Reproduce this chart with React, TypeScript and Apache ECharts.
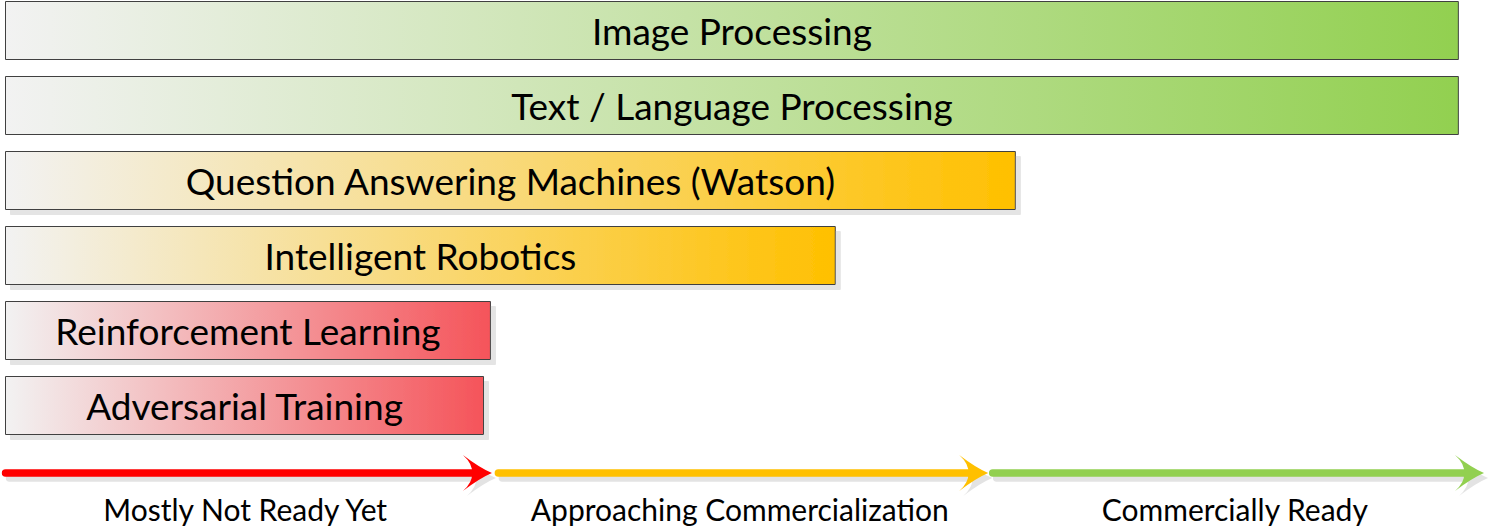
import React, { useEffect, useRef } from 'react';
import * as echarts from 'echarts';

const categories = [
  'Image Processing',
  'Text / Language Processing',
  'Question Answering Machines (Watson)',
  'Intelligent Robotics',
  'Reinforcement Learning',
  'Adversarial Training',
];
const readiness = [2.947, 2.947, 2.049, 1.684, 0.985, 0.971];
const barColors = ['#92d050', '#92d050', '#ffc000', '#ffc000', '#f5545a', '#f5545a'];
const barShadow = [false, false, true, true, true, true];

const stageNames = ['Mostly Not Ready Yet', 'Approaching Commercialization', 'Commercially Ready'];
const stageStarts = [-0.006, 0.993, 1.995];
const stageEnds = [0.987, 1.993, 2.998];
const stageColors = ['#ff0000', '#ffc000', '#92d050'];

const FONT = 'Lato, "Open Sans", sans-serif';

function headPath(tx: number, y: number) {
  return `M${tx},${y} Q${tx - 12},${y - 5} ${tx - 29},${y - 18} Q${tx - 19},${y - 9} ${tx - 20},${y} Q${tx - 19},${y + 9} ${tx - 29},${y + 18} Q${tx - 12},${y + 5} ${tx},${y} Z`;
}

export default function App() {
  const ref = useRef<HTMLDivElement>(null);
  useEffect(() => {
    if (!ref.current) return;
    const chart = echarts.init(ref.current, null, { renderer: 'svg' });
    const barData = readiness.map((v, i) => ({
      value: v,
      name: categories[i],
      itemStyle: {
        color: new echarts.graphic.LinearGradient(0, 0, 1, 0, [
          { offset: 0, color: '#f2f2f2' },
          { offset: 1, color: barColors[i] },
        ]),
        borderColor: '#404040',
        borderWidth: 1,
        ...(barShadow[i]
          ? { shadowColor: '#e4e4e4', shadowOffsetX: 5, shadowOffsetY: 5, shadowBlur: 0 }
          : {}),
      },
    }));
    const stageData = stageNames.map((n, i) => ({
      name: n,
      value: [stageStarts[i], stageEnds[i], i],
    }));
    chart.setOption({
      animation: false,
      backgroundColor: '#ffffff',
      grid: [
        { left: 5, width: 1480, top: 30.5, height: 375 },
        { left: 5, width: 1480, top: 450, height: 46 },
      ],
      xAxis: [
        { type: 'value', min: 0, max: 3, show: false, gridIndex: 0 },
        { type: 'value', min: 0, max: 3, show: false, gridIndex: 1 },
      ],
      yAxis: [
        {
          type: 'category',
          data: categories,
          inverse: true,
          boundaryGap: false,
          show: false,
          gridIndex: 0,
        },
        { type: 'value', min: 0, max: 1, show: false, gridIndex: 1 },
      ],
      series: [
        {
          type: 'bar',
          xAxisIndex: 0,
          yAxisIndex: 0,
          data: barData,
          barWidth: 59,
          clip: false,
          label: {
            show: true,
            position: 'inside',
            formatter: '{b}',
            color: '#000000',
            fontSize: 37,
            fontFamily: FONT,
          },
        },
        {
          type: 'custom',
          xAxisIndex: 1,
          yAxisIndex: 1,
          data: stageData,
          clip: false,
          renderItem: (params: any, api: any) => {
            const s = api.value(0);
            const e = api.value(1);
            const idx = api.value(2);
            const p0 = api.coord([s, 0.5]);
            const p1 = api.coord([e, 0.5]);
            const y = p0[1];
            const x0 = p0[0] + 3.5;
            const tip = p1[0];
            const color = stageColors[idx];
            const shadow = '#e3e3e3';
            const dx = 4;
            const dy = 5;
            const mk = (ox: number, oy: number, c: string) => [
              {
                type: 'line',
                shape: { x1: x0 + ox, y1: y + oy, x2: tip - 16 + ox, y2: y + oy },
                style: { stroke: c, lineWidth: 7.5, lineCap: 'round' },
              },
              {
                type: 'path',
                shape: { pathData: headPath(tip + ox, y + oy) },
                style: { fill: c },
              },
            ];
            const mid = (p0[0] - 3.5 + tip) / 2;
            return {
              type: 'group',
              children: [
                ...mk(dx, dy, shadow),
                ...mk(0, 0, color),
                {
                  type: 'text',
                  style: {
                    text: stageNames[idx],
                    x: mid,
                    y: y + 36,
                    align: 'center',
                    verticalAlign: 'middle',
                    fill: '#000000',
                    fontSize: 30,
                    fontFamily: FONT,
                  },
                },
              ],
            };
          },
        },
      ],
    });
    return () => chart.dispose();
  }, []);
  return (
    <div
      ref={ref}
      style={{ position: 'absolute', left: 0, top: 0, width: 1490, height: 530, background: '#fff' }}
    />
  );
}
